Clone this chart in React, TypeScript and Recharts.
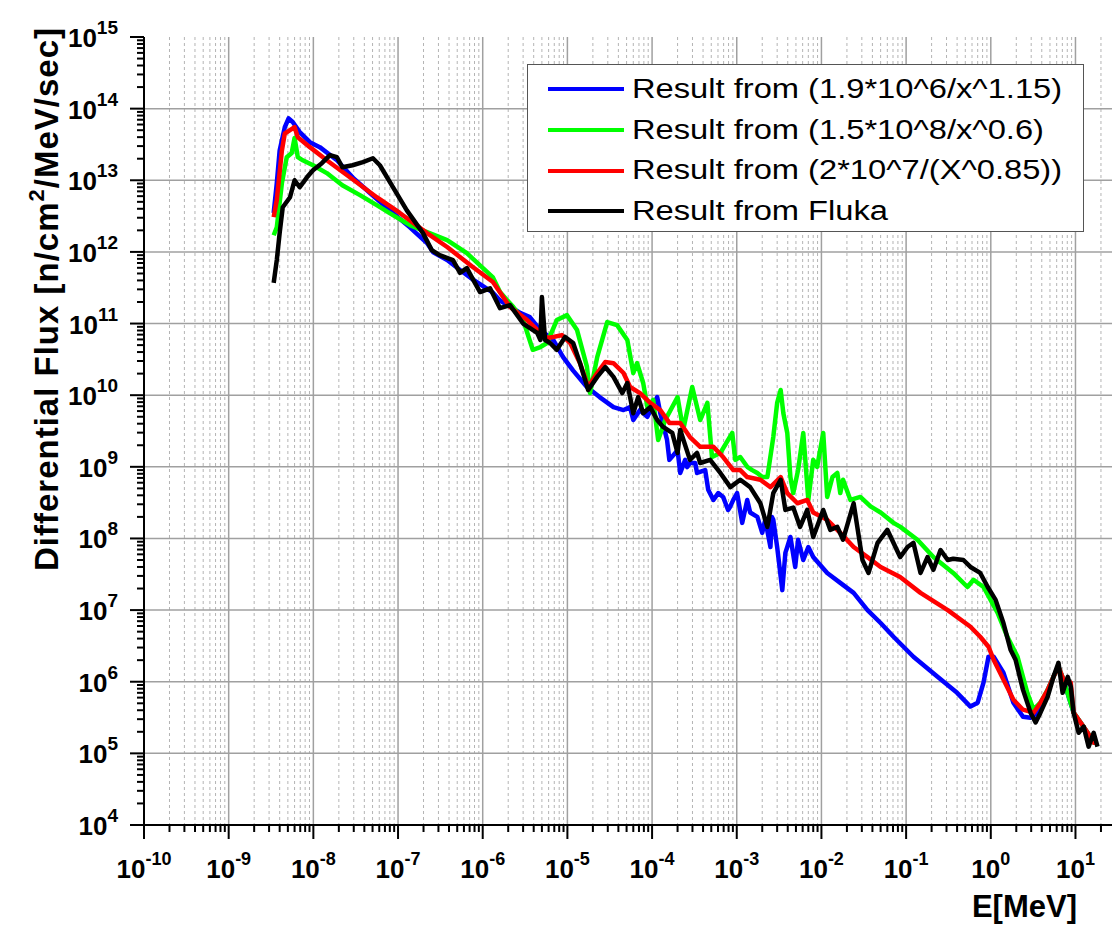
import React from "react";
import { CartesianGrid, Legend, Line, LineChart, XAxis, YAxis } from "recharts";

// energies in MeV, differential flux in n/cm2/MeV/sec
const blueE = [3.4e-9, 3.7e-9, 4.0e-9, 4.6e-9, 5.1e-9, 5.7e-9, 6.9e-9, 9.1e-9, 1.19e-8, 1.9e-8, 2.9e-8, 4.7e-8, 8.7e-8, 1.38e-7, 2.2e-7, 2.6e-7, 3.8e-7, 5.4e-7, 7.7e-7, 1.32e-6, 1.6e-6, 2.8e-6, 3.6e-6, 4.8e-6, 6.8e-6, 8.9e-6, 1.17e-5, 1.7e-5, 2.4e-5, 3.5e-5, 4.6e-5, 5.5e-5, 6.0e-5, 7.2e-5, 8.8e-5, 1.15e-4, 1.25e-4, 1.5e-4, 1.6e-4, 2.0e-4, 2.15e-4, 2.46e-4, 2.6e-4, 2.8e-4, 3.23e-4, 3.4e-4, 4.24e-4, 4.6e-4, 5.3e-4, 6.05e-4, 6.9e-4, 7.9e-4, 8.4e-4, 9.1e-4, 1.01e-3, 1.16e-3, 1.33e-3, 1.44e-3, 1.75e-3, 2.0e-3, 2.17e-3, 2.5e-3, 2.6e-3, 2.7e-3, 3.0e-3, 3.45e-3, 3.75e-3, 3.95e-3, 4.3e-3, 4.9e-3, 5.3e-3, 6.1e-3, 7.0e-3, 8.0e-3, 1.17e-2, 1.67e-2, 2.4e-2, 3.5e-2, 5.0e-2, 7.1e-2, 1.22e-1, 2.35e-1, 4.0e-1, 5.75e-1, 7.0e-1, 8.2e-1, 9.4e-1, 1.08, 1.41, 1.85, 2.4, 2.95, 3.6, 4.7, 5.5, 6.3, 7.2, 9.5, 11.5, 13.9, 16.4, 18.2];
const blueF = [3.5e12, 9.1e12, 2.6e13, 5.5e13, 7.3e13, 6.5e13, 4.7e13, 3.4e13, 2.9e13, 1.9e13, 1.1e13, 6.6e12, 3.5e12, 2.2e12, 1.33e12, 9.9e11, 7.7e11, 5.6e11, 4.1e11, 2.7e11, 2.1e11, 1.4e11, 1.23e11, 8.1e10, 5.9e10, 3.4e10, 2.2e10, 1.3e10, 9.4e9, 6.8e9, 6.2e9, 6.8e9, 4.5e9, 6.2e9, 5.0e9, 9.4e9, 5.6e9, 2.4e9, 1.25e9, 1.7e9, 8.2e8, 1.25e9, 9.9e8, 1.13e9, 1.13e9, 8.2e8, 9.0e8, 4.8e8, 3.45e8, 4.3e8, 3.8e8, 2.5e8, 2.8e8, 3.45e8, 4.3e8, 1.65e8, 3.45e8, 2.3e8, 2.0e8, 1.2e8, 1.82e8, 7.6e7, 2.0e8, 1.82e8, 7.6e7, 1.9e7, 6.3e7, 7.6e7, 1.05e8, 4.0e7, 9.6e7, 5.0e7, 7.6e7, 5.5e7, 3.3e7, 2.4e7, 1.74e7, 1.0e7, 6.6e6, 4.24e6, 2.23e6, 1.17e6, 7.0e5, 4.5e5, 5.1e5, 9.7e5, 2.23e6, 2.23e6, 1.34e6, 5.1e5, 3.25e5, 3.15e5, 3.7e5, 7.7e5, 1.17e6, 1.62e6, 1.07e6, 3.7e5, 2.7e5, 1.94e5, 1.41e5, 1.41e5];

const greenE = [3.4e-9, 3.7e-9, 4.25e-9, 4.85e-9, 5.55e-9, 6.0e-9, 6.55e-9, 7.5e-9, 9.9e-9, 1.44e-8, 2.2e-8, 3.55e-8, 5.6e-8, 8.7e-8, 1.38e-7, 2.2e-7, 3.8e-7, 6.5e-7, 1.32e-6, 1.6e-6, 2.3e-6, 3.0e-6, 3.9e-6, 4.8e-6, 5.75e-6, 7.5e-6, 9.9e-6, 1.3e-5, 1.7e-5, 1.85e-5, 2.25e-5, 2.95e-5, 3.86e-5, 5.1e-5, 6.0e-5, 6.65e-5, 7.85e-5, 8.8e-5, 1.03e-4, 1.18e-4, 1.43e-4, 2.0e-4, 2.33e-4, 2.98e-4, 3.7e-4, 4.5e-4, 5.1e-4, 6.4e-4, 8.85e-4, 9.6e-4, 1.1e-3, 1.33e-3, 1.52e-3, 1.75e-3, 2.0e-3, 2.3e-3, 2.7e-3, 3.0e-3, 3.3e-3, 3.55e-3, 3.95e-3, 4.3e-3, 4.65e-3, 5.3e-3, 6.1e-3, 7.0e-3, 8.0e-3, 8.9e-3, 1.05e-2, 1.17e-2, 1.35e-2, 1.54e-2, 1.67e-2, 1.8e-2, 2.2e-2, 2.88e-2, 3.8e-2, 5.0e-2, 7.1e-2, 8.55e-2, 1.36e-1, 2.1e-1, 3.6e-1, 5.3e-1, 6.25e-1, 8.2e-1, 1.2, 1.57, 2.07, 2.7, 3.2, 3.86, 4.7, 5.5, 6.3, 7.2, 9.5, 11.5, 13.9, 16.4, 18.2];
const greenF = [1.71e12, 2.2e12, 9.1e12, 2.1e13, 2.4e13, 3.9e13, 2.1e13, 1.9e13, 1.62e13, 1.26e13, 8.5e12, 6.2e12, 4.5e12, 3.26e12, 2.37e12, 1.89e12, 1.46e12, 9.6e11, 4.4e11, 2.75e11, 1.7e11, 1.12e11, 4.3e10, 4.7e10, 5.35e10, 1.12e11, 1.31e11, 8.1e10, 2.5e10, 1.07e10, 3.4e10, 1.05e11, 9.5e10, 5.9e10, 2.04e10, 2.8e10, 1.48e10, 6.8e9, 8.6e9, 2.37e9, 4.5e9, 9.4e9, 3.27e9, 1.3e10, 4.5e9, 7.8e9, 1.37e9, 1.56e9, 2.97e9, 1.25e9, 1.37e9, 1.0e9, 9.0e8, 8.2e8, 7.2e8, 7.2e8, 2.6e9, 7.8e9, 1.18e10, 5.6e9, 2.97e9, 7.2e8, 4.3e8, 9.0e8, 2.97e9, 3.45e8, 1.25e9, 1.0e9, 2.97e9, 3.8e8, 7.2e8, 8.2e8, 4.3e8, 6.6e8, 3.45e8, 3.8e8, 2.8e8, 2.3e8, 1.65e8, 1.45e8, 9.6e7, 5.5e7, 3.3e7, 2.1e7, 2.65e7, 2.1e7, 9.2e6, 4.24e6, 2.23e6, 7.0e5, 4.1e5, 5.1e5, 7.7e5, 1.17e6, 1.62e6, 1.07e6, 3.7e5, 2.7e5, 1.94e5, 1.41e5, 1.41e5];

const redE = [3.4e-9, 3.7e-9, 4.25e-9, 4.6e-9, 5.3e-9, 6.0e-9, 6.55e-9, 9.1e-9, 1.44e-8, 2.7e-8, 5.6e-8, 1.05e-7, 2.2e-7, 3.8e-7, 7.7e-7, 1.32e-6, 2.1e-6, 3.35e-6, 4.8e-6, 5.75e-6, 6.8e-6, 8.6e-6, 1.08e-5, 1.41e-5, 1.76e-5, 2.25e-5, 2.8e-5, 3.5e-5, 4.6e-5, 5.5e-5, 7.2e-5, 9.5e-5, 1.25e-4, 1.6e-4, 2.15e-4, 2.8e-4, 3.7e-4, 5.3e-4, 6.9e-4, 9.1e-4, 1.1e-3, 1.33e-3, 1.9e-3, 2.5e-3, 3.3e-3, 3.95e-3, 5.2e-3, 6.8e-3, 8.0e-3, 1.17e-2, 1.67e-2, 2.4e-2, 3.5e-2, 5.0e-2, 8.5e-2, 1.48e-1, 3.1e-1, 5.75e-1, 7.5e-1, 9.4e-1, 1.08, 1.41, 1.85, 2.4, 3.2, 3.86, 4.7, 5.5, 6.3, 7.2, 8.8, 9.5, 11.5, 13.9, 16.4, 18.2];
const redF = [3.06e12, 5.3e12, 2.6e13, 4.5e13, 5.0e13, 5.5e13, 4.0e13, 2.9e13, 1.9e13, 1.1e13, 5.8e12, 3.5e12, 1.83e12, 1.17e12, 6.1e11, 3.8e11, 1.7e11, 1.12e11, 7.4e10, 6.3e10, 6.5e10, 6.9e10, 5.35e10, 2.8e10, 1.3e10, 2.04e10, 2.9e10, 2.8e10, 2.04e10, 1.3e10, 1.07e10, 7.8e9, 6.2e9, 4.1e9, 4.1e9, 2.6e9, 1.9e9, 1.9e9, 1.37e9, 9.0e8, 9.0e8, 7.2e8, 6.6e8, 5.2e8, 7.2e8, 4.3e8, 3.1e8, 3.45e8, 2.3e8, 1.82e8, 1.2e8, 7.6e7, 5.5e7, 4.0e7, 2.9e7, 1.74e7, 1.0e7, 5.85e6, 4.24e6, 3.08e6, 2.03e6, 1.07e6, 5.6e5, 4.07e5, 3.7e5, 5.1e5, 7.7e5, 1.17e6, 1.62e6, 1.07e6, 9.7e5, 3.7e5, 2.7e5, 1.94e5, 1.41e5, 1.41e5];

const flukaE = [3.4e-9, 3.7e-9, 4.0e-9, 4.35e-9, 5.3e-9, 6.0e-9, 6.9e-9, 8.4e-9, 9.9e-9, 1.26e-8, 1.57e-8, 1.9e-8, 2.2e-8, 2.9e-8, 3.85e-8, 5.05e-8, 6.1e-8, 8.7e-8, 1.27e-7, 1.97e-7, 2.5e-7, 3.1e-7, 4.45e-7, 5.4e-7, 6.5e-7, 7.7e-7, 9.3e-7, 1.22e-6, 1.6e-6, 2.1e-6, 3.0e-6, 4.4e-6, 4.8e-6, 5.0e-6, 5.45e-6, 6.25e-6, 7.5e-6, 9.4e-6, 1.17e-5, 1.41e-5, 1.76e-5, 2.25e-5, 2.8e-5, 3.5e-5, 4.45e-5, 5.1e-5, 6.0e-5, 6.85e-5, 7.85e-5, 9.5e-5, 1.15e-4, 1.35e-4, 1.73e-4, 2.0e-4, 2.15e-4, 2.8e-4, 3.4e-4, 3.7e-4, 4.85e-4, 6.4e-4, 8.4e-4, 1.1e-3, 1.44e-3, 1.9e-3, 2.3e-3, 2.7e-3, 3.3e-3, 3.75e-3, 4.65e-3, 5.6e-3, 6.8e-3, 8.0e-3, 1.05e-2, 1.27e-2, 1.54e-2, 1.8e-2, 2.4e-2, 3.05e-2, 3.6e-2, 4.6e-2, 6.0e-2, 8.5e-2, 1.04e-1, 1.22e-1, 1.48e-1, 1.79e-1, 2.1e-1, 2.55e-1, 3.1e-1, 3.6e-1, 4.75e-1, 5.75e-1, 7.5e-1, 9.2e-1, 1.14, 1.41, 1.71, 1.96, 2.4, 2.95, 3.38, 3.86, 4.7, 5.5, 6.3, 7.05, 8.1, 8.8, 9.5, 10.9, 12.5, 14.3, 16.4, 18.2];
const flukaF = [3.7e11, 7.7e11, 1.83e12, 4.2e12, 5.8e12, 1.0e13, 8.0e12, 1.1e13, 1.38e13, 1.73e13, 2.24e13, 2.1e13, 1.52e13, 1.62e13, 1.79e13, 2.03e13, 1.62e13, 8.0e12, 3.8e12, 1.83e12, 1.06e12, 9.0e11, 7.7e11, 5.1e11, 5.95e11, 4.1e11, 2.75e11, 3.1e11, 1.64e11, 1.81e11, 1.0e11, 7.4e10, 5.9e10, 2.34e11, 5.9e10, 5.35e10, 4.3e10, 6.5e10, 5.35e10, 2.8e10, 1.18e10, 1.8e10, 2.47e10, 1.8e10, 1.07e10, 1.48e10, 5.6e9, 9.4e9, 5.6e9, 6.8e9, 4.5e9, 3.6e9, 2.97e9, 1.56e9, 3.27e9, 1.25e9, 1.56e9, 1.13e9, 1.25e9, 8.2e8, 5.2e8, 6.6e8, 5.2e8, 3.1e8, 1.45e8, 4.3e8, 6.6e8, 2.5e8, 2.7e8, 1.45e8, 2.5e8, 1.05e8, 2.5e8, 1.32e8, 1.45e8, 9.6e7, 3.1e8, 5.0e7, 3.3e7, 8.7e7, 1.32e8, 5.5e7, 7.6e7, 8.7e7, 3.3e7, 5.5e7, 3.65e7, 6.9e7, 5.0e7, 5.2e7, 5.0e7, 4.0e7, 3.3e7, 2.1e7, 1.39e7, 6.6e6, 2.8e6, 2.03e6, 7.7e5, 3.7e5, 2.7e5, 3.7e5, 6.2e5, 1.17e6, 1.84e6, 7.0e5, 1.17e6, 8.5e5, 3.7e5, 1.94e5, 2.36e5, 1.24e5, 1.94e5, 1.24e5];

const seriesNames = [
  "Result from (1.9*10^6/x^1.15)",
  "Result from (1.5*10^8/x^0.6)",
  "Result from (2*10^7/(X^0.85))",
  "Result from Fluka",
];

const xMajor = [1e-10, 1e-9, 1e-8, 1e-7, 1e-6, 1e-5, 1e-4, 1e-3, 1e-2, 1e-1, 1, 10];
const yMajor = [1e4, 1e5, 1e6, 1e7, 1e8, 1e9, 1e10, 1e11, 1e12, 1e13, 1e14, 1e15];
const minorSteps = [2, 3, 4, 5, 6, 7, 8, 9];
const X_MAX = 27;

const xMinor = xMajor.flatMap((d) => minorSteps.map((m) => m * d)).filter((v) => v < X_MAX);
const yMinor = yMajor.slice(0, -1).flatMap((d) => minorSteps.map((m) => m * d));
const xTicks = [...xMajor, ...xMinor].sort((a, b) => a - b);
const yTicks = [...yMajor, ...yMinor].sort((a, b) => a - b);

const toPoints = (e: number[], f: number[]) => e.map((x, i) => ({ e: x, f: f[i] }));

const SERIES = [
  { name: seriesNames[0], color: "#0000ff", data: toPoints(blueE, blueF) },
  { name: seriesNames[1], color: "#00ff00", data: toPoints(greenE, greenF) },
  { name: seriesNames[2], color: "#ff0000", data: toPoints(redE, redF) },
  { name: seriesNames[3], color: "#000000", data: toPoints(flukaE, flukaF) },
];

const FONT = "Arial, 'Liberation Sans', sans-serif";

const isMajor = (v: number) => {
  const l = Math.log10(v);
  return Math.abs(l - Math.round(l)) < 1e-6;
};

const XTick = (props: any) => {
  const { x, y, payload } = props;
  const v = payload.value;
  const major = isMajor(v);
  return (
    <g>
      <line x1={x} x2={x} y1={y} y2={y + (major ? 14 : 7)} stroke="#000" strokeWidth={2} />
      {major && (
        <text x={x} y={y + 53} textAnchor="middle" fontFamily={FONT} fontWeight="bold" fontSize={26} fill="#000">
          10
          <tspan dy={-13} fontSize={18}>
            {Math.round(Math.log10(v))}
          </tspan>
        </text>
      )}
    </g>
  );
};

const YTick = (props: any) => {
  const { x, y, payload } = props;
  const v = payload.value;
  const major = isMajor(v);
  return (
    <g>
      <line x1={x} x2={x - (major ? 14 : 7)} y1={y} y2={y} stroke="#000" strokeWidth={2} />
      {major && (
        <text x={x - 26} y={y + 10} textAnchor="end" fontFamily={FONT} fontWeight="bold" fontSize={26} fill="#000">
          10
          <tspan dy={-13} fontSize={19}>
            {Math.round(Math.log10(v))}
          </tspan>
        </text>
      )}
    </g>
  );
};

const YTitle = () => (
  <text
    transform="translate(58,299) rotate(-90)"
    textAnchor="middle"
    fontFamily={FONT}
    fontWeight="bold"
    fontSize={33}
    letterSpacing={1}
    fill="#000"
  >
    Differential Flux [n/cm
    <tspan dy={-14} fontSize={22}>
      2
    </tspan>
    <tspan dy={14}>/MeV/sec]</tspan>
  </text>
);

const XTitle = () => (
  <text x={1077} y={917} textAnchor="end" fontFamily={FONT} fontWeight="bold" fontSize={31} fill="#000">
    E[MeV]
  </text>
);

const LegendBox = () => (
  <div
    style={{
      width: 557,
      height: 168,
      boxSizing: "border-box",
      border: "1.5px solid #555",
      background: "#fff",
      paddingTop: 4,
      fontFamily: FONT,
    }}
  >
    {SERIES.map((s) => (
      <div key={s.name} style={{ height: 40.7, display: "flex", alignItems: "center" }}>
        <div style={{ marginLeft: 20, width: 76, height: 4, flex: "none", background: s.color }} />
        <span
          style={{
            marginLeft: 8,
            fontSize: 27,
            color: "#000",
            whiteSpace: "nowrap",
            display: "inline-block",
            transform: "scaleX(1.21)",
            transformOrigin: "left center",
          }}
        >
          {s.name}
        </span>
      </div>
    ))}
  </div>
);

export default function App() {
  return (
    <div style={{ position: "absolute", left: 0, top: 0, background: "#fff" }}>
      <LineChart width={1112} height={926} margin={{ top: 37, right: 0, bottom: 0, left: 0 }}>
        <CartesianGrid horizontal={false} verticalValues={xMinor} stroke="#b4b4b4" strokeDasharray="3 3" />
        <CartesianGrid
          verticalValues={xMajor}
          horizontalValues={yMajor.filter((v) => v < 1e15)}
          stroke="#a0a0a0"
          strokeWidth={1.5}
        />
        <XAxis
          dataKey="e"
          type="number"
          scale="log"
          domain={[1e-10, X_MAX]}
          allowDataOverflow
          ticks={xTicks}
          interval={0}
          tick={<XTick />}
          tickLine={false}
          tickSize={0}
          tickMargin={0}
          height={101}
          axisLine={{ stroke: "#000", strokeWidth: 2 }}
          label={<XTitle />}
        />
        <YAxis
          dataKey="f"
          type="number"
          scale="log"
          domain={[1e4, 1e15]}
          allowDataOverflow
          ticks={yTicks}
          interval={0}
          tick={<YTick />}
          tickLine={false}
          tickSize={0}
          tickMargin={0}
          width={144}
          axisLine={{ stroke: "#000", strokeWidth: 2 }}
          label={<YTitle />}
        />
        {SERIES.map((s) => (
          <Line
            key={s.name}
            data={s.data}
            dataKey="f"
            name={s.name}
            type="linear"
            stroke={s.color}
            strokeWidth={4.5}
            strokeLinejoin="round"
            dot={false}
            activeDot={false}
            isAnimationActive={false}
          />
        ))}
        <Legend
          layout="vertical"
          align="center"
          verticalAlign="middle"
          wrapperStyle={{ left: 527, top: 64, width: 557, height: 168 }}
          content={() => <LegendBox />}
        />
      </LineChart>
    </div>
  );
}
